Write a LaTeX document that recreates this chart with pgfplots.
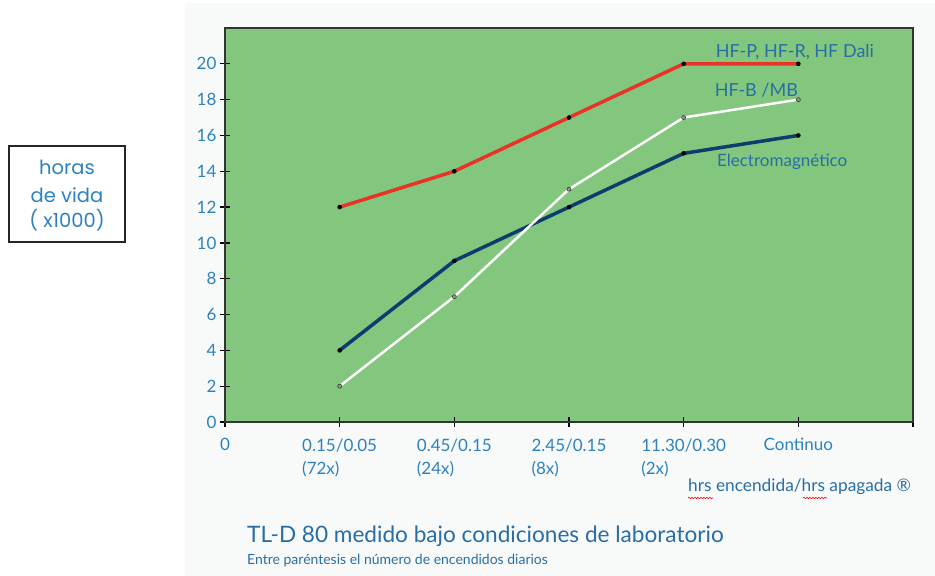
\documentclass[border=0pt]{standalone}
\usepackage{pgfplots}
\pgfplotsset{compat=1.18}
\usepackage{fontspec}
\setmainfont{Lato}
\newfontfamily\boxfont{Poppins}
\usetikzlibrary{decorations.pathmorphing}
\definecolor{bg}{RGB}{248,250,250}
\definecolor{plotgreen}{RGB}{130,199,125}
\definecolor{lblue}{RGB}{45,130,190}
\definecolor{sblue}{RGB}{40,110,165}
\definecolor{redl}{RGB}{232,52,38}
\definecolor{navy}{RGB}{15,60,110}
\begin{document}
\begin{tikzpicture}[x=1pt,y=1pt]
\useasboundingbox (0,0) rectangle (935,576);
\fill[bg] (185,0) rectangle (935,573);
\draw[black!85, line width=1.2pt] (9,334) rectangle (125,430);
\node[anchor=base, font=\boxfont\fontsize{19.5}{22}\selectfont, text=lblue] at (67,401) {horas};
\node[anchor=base, font=\boxfont\fontsize{19.5}{22}\selectfont, text=lblue] at (67,373) {de vida};
\node[anchor=base, font=\boxfont\fontsize{19.5}{22}\selectfont, text=lblue] at (67,348) {( x1000)};
\begin{axis}[
  at={(225pt,154pt)}, anchor=south west,
  width=688pt, height=394pt, scale only axis,
  xmin=0, xmax=6, ymin=0, ymax=22,
  axis background/.style={fill=plotgreen},
  axis line style={draw=black!80, line width=1.5pt},
  tick style={black, line width=1.3pt},
  major tick length=10pt, tick align=center,
  xtick pos=bottom, ytick pos=left,
  ytick={0,2,...,20},
  xtick={0,1,2,3,4,5,6},
  xticklabels={0,{0.15/0.05\\(72x)},{0.45/0.15\\(24x)},{2.45/0.15\\(8x)},{11.30/0.30\\(2x)},Continuo,{}},
  /pgf/number format/assume math mode=true,
  ticklabel style={font=\fontsize{17}{23}\selectfont, text=lblue},
  xticklabel style={align=left, yshift=-8pt},
  clip=false,
]
\addplot[navy, line width=3.5pt, line join=round, mark=*, mark size=2pt, mark options={black, fill=black, line width=0.5pt}] coordinates {(1,4) (2,9) (3,12) (4,15) (5,16)};
\addplot[white, line width=2.5pt, line join=round, mark=*, mark size=2pt, mark options={draw=black!80, fill=black!40, line width=0.6pt}] coordinates {(1,2) (2,7) (3,13) (4,17) (5,18)};
\addplot[redl, line width=3.5pt, line join=round, mark=*, mark size=2pt, mark options={black, fill=black, line width=0.5pt}] coordinates {(1,12) (2,14) (3,17) (4,20) (5,20)};
\node[anchor=base west, font=\fontsize{18}{20}\selectfont, text=sblue, inner sep=0pt] at (axis cs:4.28,20.38) {HF-P, HF-R, HF Dali};
\node[anchor=base west, font=\fontsize{18}{20}\selectfont, text=sblue, inner sep=0pt] at (axis cs:4.27,18.15) {HF-B /MB};
\node[anchor=base west, font=\fontsize{17}{20}\selectfont, text=sblue, inner sep=0pt] at (axis cs:4.29,14.24) {Electromagnético};
\end{axis}
\node[anchor=base west, font=\fontsize{17.3}{20}\selectfont, text=sblue, inner sep=0pt] at (688,84) {hrs encendida/hrs apagada ®};
\draw[red, line width=0.6pt, decorate, decoration={snake, amplitude=0.8pt, segment length=3pt}] (688,78) -- (713,78);
\draw[red, line width=0.6pt, decorate, decoration={snake, amplitude=0.8pt, segment length=3pt}] (803,78) -- (827,78);
\node[anchor=base west, font=\fontsize{22.6}{26}\selectfont, text=sblue, inner sep=0pt] at (247,34) {TL-D 80 medido bajo condiciones de laboratorio};
\node[anchor=base west, font=\fontsize{14}{16}\selectfont, text=sblue, inner sep=0pt] at (247,11) {Entre paréntesis el número de encendidos diarios};
\end{tikzpicture}
\end{document}
